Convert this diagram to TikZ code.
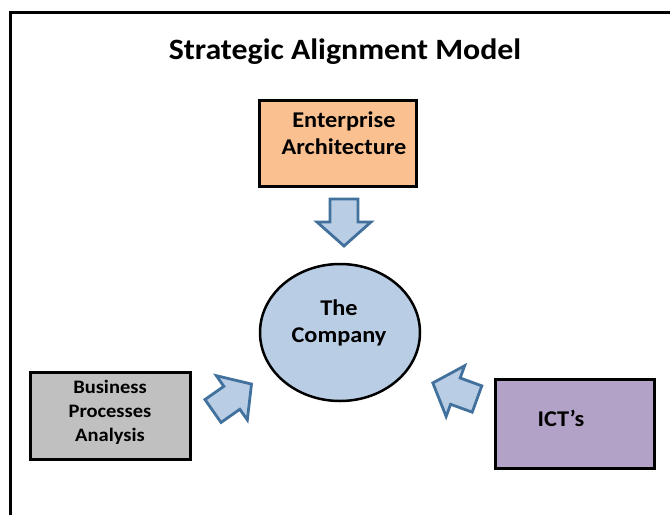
\documentclass[tikz,border=0pt]{standalone}
\usepackage{fontspec}
\setmainfont{Carlito}[FakeStretch=1.08]
\usetikzlibrary{shapes.geometric}
\definecolor{eaorange}{HTML}{FAC090}
\definecolor{bpgray}{HTML}{C0C0C0}
\definecolor{ictpurple}{HTML}{B3A2C7}
\definecolor{compblue}{HTML}{B9CDE5}
\definecolor{arrowedge}{HTML}{41719C}
\tikzset{box/.style={draw=black, line width=3pt, rectangle, inner sep=0pt},
  boxtext/.style={font=\bfseries\fontsize{22.5}{27}\selectfont, align=center, inner sep=0pt},
  blockarrow/.style={fill=compblue, draw=arrowedge, line width=2.8pt, line join=miter}}

\begin{document}
\begin{tikzpicture}[x=1pt,y=-1pt]
  \useasboundingbox (0,0) rectangle (670,515);
  % frame
  \draw[line width=3pt] (10,515) -- (10,12) -- (670,12);
  \node[boxtext, font=\bfseries\fontsize{29.5}{36}\selectfont] (title) at (345,52) {Strategic Alignment Model};
  % boxes
  \node[box, fill=eaorange, minimum width=157pt, minimum height=86pt] (ea) at (338,143.5) {};
  \node[box, fill=bpgray, minimum width=160pt, minimum height=87pt] (bp) at (110.5,416) {};
  \node[box, fill=ictpurple, minimum width=159pt, minimum height=89pt] (ict) at (575,424) {};
  \node[ellipse, draw=black, line width=2.5pt, fill=compblue, inner sep=0pt,
    minimum width=160pt, minimum height=137pt] (company) at (340,332.5) {};
  % texts
  \node[boxtext] (eatext) at (344,133.5) {Enterprise\\Architecture};
  \node[boxtext, font=\bfseries\fontsize{19}{24}\selectfont] (bptext) at (110,412) {Business\\Processes\\Analysis};
  \node[boxtext] (icttext) at (561,418) {ICT’s};
  \node[boxtext] (comptext) at (339,323) {The\\Company};
  % block arrows
  \foreach \x/\y/\a in {344/199/-90, 213/411/35, 477/399/160}
  {
   \begin{scope}[shift={(\x,\y)},rotate=\a]
    \draw[blockarrow] (0,-14) -- (23,-14) -- (23,-27) -- (47,0) -- (23,27) -- (23,14) -- (0,14) -- cycle;
   \end{scope}
  }
\end{tikzpicture}
\end{document}
